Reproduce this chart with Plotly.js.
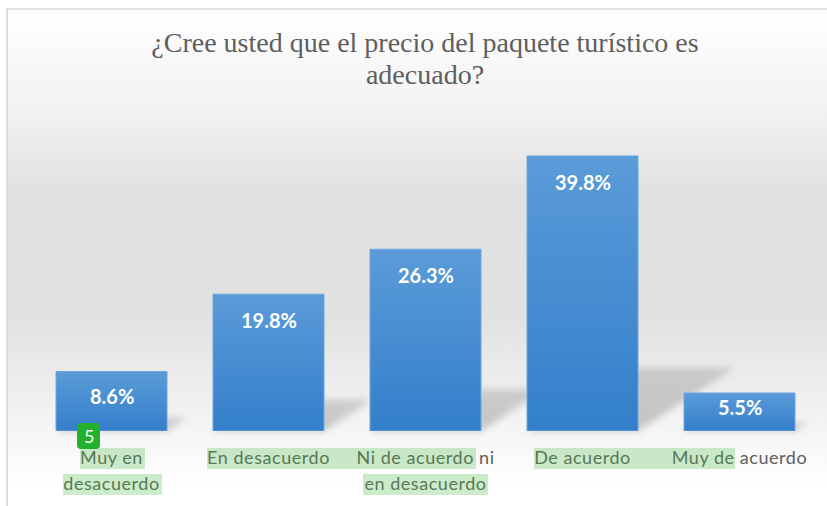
<!DOCTYPE html>
<html><head><meta charset="utf-8">
<script src="https://cdn.plot.ly/plotly-3.0.1.min.js"></script>
<style>
html,body{margin:0;padding:0;background:#fff;width:827px;height:506px;overflow:hidden}
#bg{position:absolute;left:6px;top:8px;width:821px;height:498px;box-sizing:border-box;border-left:2px solid #dcdcdc;border-top:2px solid #e2e2e2;
background:linear-gradient(to bottom,#ffffff 0%,#f2f2f2 20%,#e0e0e0 38%,#e2e2e2 62%,#f5f5f5 85%,#ffffff 96%)}
#chart{position:absolute;left:0;top:0;width:827px;height:506px}
</style></head><body>
<div id="bg"></div><div id="chart"></div>
<script>
const categories=["Muy en<br>desacuerdo","En desacuerdo","Ni de acuerdo ni<br>en desacuerdo","De acuerdo","Muy de acuerdo"];
const values=[8.6,19.8,26.3,39.8,5.5];
const valueLabels=["8.6%","19.8%","26.3%","39.8%","5.5%"];
const positions=[0,1,2,3,4];
const titleText="¿Cree usted que el precio del paquete turístico es<br>adecuado?";
const badgeText="5";
const W=827,H=506,ML=33,MR=9,MT=120,MB=75;
const BAR=0.707;
const PX_PER_UNIT=(H-MT-MB)/45;
const px=x=>(x-ML)/(W-ML-MR), py=y=>1-(y-MT)/(H-MT-MB);
const rect=(x0,x1,y0,y1)=>({type:"rect",xref:"paper",yref:"paper",x0:px(x0),x1:px(x1),y0:py(y0),y1:py(y1),layer:"above",line:{width:0},fillcolor:"rgba(75,188,68,0.28)"});
const highlights=[[80,145,448,469],[63,162,474,495],[207,476,448,469],[363,488,474,495],[534,735,448,469]].map(r=>rect(...r));
const shadows=values.map((v,i)=>{
  const a=i-BAR/2,b=i+BAR/2,dx=v*0.0155,h=v*0.23;
  return {type:"path",xref:"x",yref:"y",layer:"below",line:{width:0},fillcolor:"#000000",
    path:`M${a},0 L${b},0 L${b+dx},${h} L${a+dx},${h} Z`};
});
const bx0=px(77),bx1=px(100),by0=py(423),by1=py(449),rx=4/(W-ML-MR),ry=4/(H-MT-MB);
const badge={type:"path",xref:"paper",yref:"paper",layer:"above",fillcolor:"#22b02f",line:{width:0},
  path:`M${bx0+rx},${by0} L${bx1-rx},${by0} Q${bx1},${by0} ${bx1},${by0-ry} L${bx1},${by1+ry} Q${bx1},${by1} ${bx1-rx},${by1} L${bx0+rx},${by1} Q${bx0},${by1} ${bx0},${by1+ry} L${bx0},${by0-ry} Q${bx0},${by0} ${bx0+rx},${by0} Z`};
const labelNotes=values.map((v,i)=>({x:i,y:v,xref:"x",yref:"y",text:valueLabels[i],showarrow:false,yanchor:"middle",xanchor:"center",
  yshift:-Math.min(26,v*PX_PER_UNIT/2-5),
  font:{family:"Lato, sans-serif",size:20,color:"#fff",weight:700}}));
const badgeNote={x:px(88.5),y:py(436),xref:"paper",yref:"paper",xanchor:"center",yanchor:"middle",text:badgeText,showarrow:false,font:{family:"Lato, sans-serif",size:18,color:"#fff"}};
Plotly.newPlot("chart",[{type:"bar",x:positions,y:values,width:BAR,hoverinfo:"skip",
  marker:{color:"#4a8fd3",line:{color:"#6ea7dd",width:1}}}],{
  width:W,height:H,autosize:false,showlegend:false,
  paper_bgcolor:"rgba(0,0,0,0)",plot_bgcolor:"rgba(0,0,0,0)",
  margin:{l:ML,r:MR,t:MT,b:MB,pad:0},
  title:{text:titleText,x:425/W,xanchor:"center",y:1-52/H,yanchor:"top",yref:"container",
    font:{family:"Liberation Serif, serif",size:28,color:"#5e5e5e"}},
  xaxis:{type:"linear",range:[-0.5,4.5],tickmode:"array",tickvals:positions,ticktext:categories,ticks:"",showgrid:false,zeroline:false,showline:false,
    ticklabelstandoff:14,tickangle:0,tickfont:{family:"Lato, sans-serif",size:18,color:"#5e5e5e"}},
  yaxis:{range:[0,45],visible:false,showgrid:false,zeroline:false},
  shapes:[...shadows,...highlights,badge],
  annotations:[...labelNotes,badgeNote]
},{displayModeBar:false,staticPlot:true}).then(gd=>{
  const svg=gd.querySelector("svg.main-svg");
  const NS="http://www.w3.org/2000/svg";
  const defs=document.createElementNS(NS,"defs");
  defs.innerHTML=`<linearGradient id="barGrad" x1="0" y1="0" x2="0" y2="1"><stop offset="0" stop-color="#5b9bd8"/><stop offset="1" stop-color="#337fcb"/></linearGradient>
  <linearGradient id="shadowGrad" x1="0" y1="1" x2="0" y2="0"><stop offset="0" stop-color="#000" stop-opacity="0.2"/><stop offset="1" stop-color="#000" stop-opacity="0.14"/></linearGradient>
  <filter id="blur" x="-40%" y="-40%" width="180%" height="180%"><feGaussianBlur stdDeviation="3.5"/></filter>`;
  svg.insertBefore(defs,svg.firstChild);
  gd.querySelectorAll(".bars .point path").forEach(p=>{p.style.fill="url(#barGrad)";});
  gd.querySelectorAll(".subplot .shapelayer path, .layer-below .shapelayer path").forEach(p=>{
    p.removeAttribute("clip-path"); p.style.fill="url(#shadowGrad)"; p.style.fillOpacity=1; p.style.filter="url(#blur)";
    const g=p.parentNode; if(g) g.removeAttribute("clip-path");
  });
  gd.querySelectorAll(".xtick text").forEach(t=>{t.style.letterSpacing="0.55px";});
  gd.querySelectorAll(".xtick text tspan.line, .gtitle tspan.line").forEach(t=>{
    const isTitle=!!t.closest(".gtitle"), d=parseFloat(t.getAttribute("dy"));
    if(d>0) t.setAttribute("dy",isTitle?"32":"26");
  });
});
</script></body></html>
